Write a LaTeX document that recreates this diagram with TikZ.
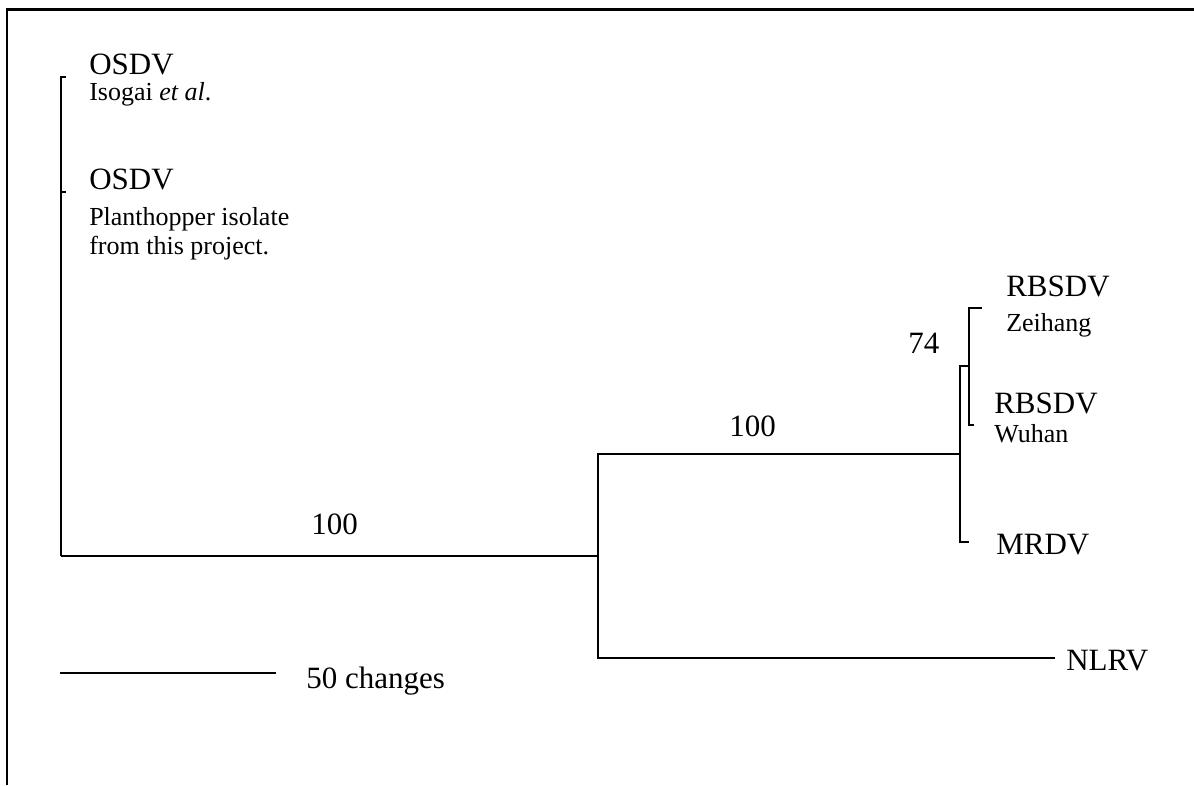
\documentclass[tikz,border=0pt]{standalone}
\usepackage{fontspec}
\setmainfont{Liberation Serif}
\begin{document}
\begin{tikzpicture}[x=0.75pt,y=-0.75pt,
  branch/.style={line width=1.5pt},
  frame/.style={line width=1.6pt},
  taxon/.style={inner sep=0pt,anchor=base west,font=\fontsize{23.25}{28}\selectfont},
  strain/.style={inner sep=0pt,anchor=base west,font=\fontsize{19.5}{24}\selectfont},
  support/.style={inner sep=0pt,anchor=base west,font=\fontsize{23.25}{28}\selectfont}]
\useasboundingbox (0,0) rectangle (1194,785);

% frame (top and left edges)
\coordinate (fTR) at (1194,9.5);
\coordinate (fTL) at (7,9.5);
\coordinate (fBL) at (7,785);
\draw[frame] (fTR) -- (fTL) -- (fBL);

% internal nodes
\coordinate (root) at (61,556);
\coordinate (nA) at (598,556);
\coordinate (nB) at (960,454);
\coordinate (nC) at (969,366);

% leaf tips
\coordinate (tOs1) at (66,77);
\coordinate (tOs2) at (66,192);
\coordinate (tRz) at (982,308);
\coordinate (tRw) at (974,425);
\coordinate (tMr) at (969,542);
\coordinate (tNl) at (1055,658);

% branches
\draw[branch] (root) |- (tOs1);
\draw[branch] (root) |- (tOs2);
\draw[branch] (root) -- (nA);
\draw[branch] (nA) |- (nB);
\draw[branch] (nA) |- (tNl);
\draw[branch] (nB) |- (nC);
\draw[branch] (nB) |- (tMr);
\draw[branch] (nC) |- (tRz);
\draw[branch] (nC) |- (tRw);

% taxon labels
\node[taxon]  (lOs1) at (89,74)  {OSDV};
\node[strain] (sOs1) at (89,100) {Isogai \textit{et al}.};
\node[taxon]  (lOs2) at (89,189) {OSDV};
\node[strain] (sOs2a) at (89,225) {Planthopper isolate};
\node[strain] (sOs2b) at (89,254) {from this project.};
\node[taxon]  (lRz) at (1006,296) {RBSDV};
\node[strain] (sRz) at (1006,331) {Zeihang};
\node[taxon]  (lRw) at (994,413) {RBSDV};
\node[strain] (sRw) at (994,442) {Wuhan};
\node[taxon]  (lMr) at (996,554) {MRDV};
\node[taxon]  (lNl) at (1066,670) {NLRV};

% bootstrap support values
\node[support] (bs1) at (311,534) {100};
\node[support] (bs2) at (729,436) {100};
\node[support] (bs3) at (908,353) {74};

% scale bar
\coordinate (sb0) at (60,673);
\coordinate (sb1) at (276,673);
\draw[branch] (sb0) -- (sb1);
\node[taxon] (sbl) at (306,688) {50 changes};
\end{tikzpicture}
\end{document}
